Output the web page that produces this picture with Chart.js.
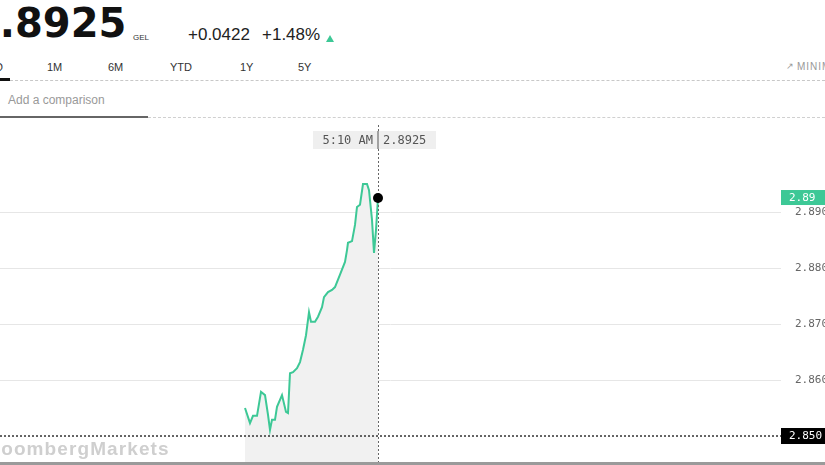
<!DOCTYPE html>
<html>
<head>
<meta charset="utf-8">
<script src="https://cdn.jsdelivr.net/npm/chart.js@4"></script>
<style>
  html, body { margin:0; padding:0; background:#fff; }
  body { width:825px; height:465px; overflow:hidden; position:relative; font-family:"Liberation Sans", Arial, sans-serif; }
  .abs { position:absolute; white-space:nowrap; }
  #price { left:-28px; top:2px; font-family:"DejaVu Sans", sans-serif; font-size:40px; line-height:42px; font-weight:bold; color:#111; }
  #cur { left:133px; top:33px; font-size:8px; color:#333; }
  #chg { left:188px; top:25px; font-size:17px; color:#222; }
  #pct { left:262px; top:25px; font-size:17px; color:#222; }
  #tri { left:326px; top:35px; width:0; height:0; border-left:4px solid transparent; border-right:4px solid transparent; border-bottom:7px solid #3dc896; }
  .tab { top:61px; font-size:11px; color:#333; }
  #tabline { left:0; top:80px; width:825px; height:0; border-top:1px dashed #c8c8c8; }
  #tabsel { left:0; top:78px; width:10px; height:3px; background:#111; }
  #mini { left:797px; top:61px; font-size:10px; color:#999; letter-spacing:1px; }
  #miniicon { left:786px; top:61px; font-size:9px; color:#999; }
  #cmp { left:8px; top:93px; font-size:12px; color:#999; }
  #cmpline1 { left:0; top:116px; width:148px; height:2px; background:#666; }
  #cmpline2 { left:148px; top:117px; width:677px; height:0; border-top:1px dashed #d0d0d0; }
  #wrap { left:0; top:125px; width:860px; height:340px; }
  #wm { left:-20px; top:438px; font-size:19px; font-weight:bold; color:#cfcfcf; letter-spacing:1.1px; }
  #bottom { left:0; top:462px; width:825px; height:3px; background:#9a9a9a; }
</style>
</head>
<body>
<div class="abs" id="price">2.8925</div>
<div class="abs" id="cur">GEL</div>
<div class="abs" id="chg">+0.0422</div>
<div class="abs" id="pct">+1.48%</div>
<div class="abs" id="tri"></div>
<div class="abs tab" style="left:-11px">1D</div>
<div class="abs tab" style="left:47px">1M</div>
<div class="abs tab" style="left:108px">6M</div>
<div class="abs tab" style="left:170px">YTD</div>
<div class="abs tab" style="left:240px">1Y</div>
<div class="abs tab" style="left:298px">5Y</div>
<div class="abs" id="tabline"></div>
<div class="abs" id="tabsel"></div>
<div class="abs" id="miniicon">&#8599;</div>
<div class="abs" id="mini">MINIMIZE</div>
<div class="abs" id="cmp">Add a comparison</div>
<div class="abs" id="cmpline1"></div>
<div class="abs" id="cmpline2"></div>
<div class="abs" id="wrap"><canvas id="c" width="860" height="340"></canvas></div>
<div class="abs" id="wm">BloombergMarkets</div>
<div class="abs" id="bottom"></div>
<script>
// time of quote, minutes after midnight
const times = [243.5,246,247.5,249.5,251.5,253.5,255,256,257,258.5,259.5,262,264,265,266,267.5,269.5,271,272.5,274,275.5,276.5,278.5,280,282,283,285,287,288.5,291,293.5,294.5,295,297,298.5,299.5,301,302.5,304.5,305.5,307,308,309,310];
// GEL price
const prices = [2.8550,2.8523,2.8536,2.8536,2.8579,2.8573,2.8538,2.8511,2.8529,2.8529,2.8552,2.8573,2.8543,2.8541,2.8612,2.8614,2.8621,2.8632,2.8654,2.8680,2.8721,2.8704,2.8704,2.8713,2.8730,2.8748,2.8757,2.8761,2.8766,2.8788,2.8811,2.8832,2.8845,2.8848,2.8877,2.8909,2.8913,2.8950,2.8950,2.8939,2.8886,2.8827,2.8868,2.8925];
const yTicks = [2.850, 2.860, 2.870, 2.880, 2.890];
const baseLevel = 2.850;
const xRange = [121, 511.5];
const yRange = [2.84518, 2.90554];

const lastT = times[times.length-1];
const lastV = prices[prices.length-1];
function fmtTime(m){
  let h = Math.floor(m/60), mm = Math.round(m%60);
  const ap = h >= 12 ? 'PM' : 'AM';
  h = h % 12; if (h === 0) h = 12;
  return h + ':' + String(mm).padStart(2,'0') + ' ' + ap;
}
const MONO = '"DejaVu Sans Mono", "Liberation Mono", monospace';

const overlay = {
  id:'overlay',
  afterDatasetsDraw(chart){
    const {ctx, chartArea:a, scales:{x, y}} = chart;
    const W = chart.width;
    ctx.save();
    // base dotted line
    const yb = y.getPixelForValue(baseLevel);
    ctx.strokeStyle = '#333'; ctx.lineWidth = 1.5; ctx.setLineDash([2,2]);
    ctx.beginPath(); ctx.moveTo(a.left, yb); ctx.lineTo(a.right, yb); ctx.stroke();
    // crosshair
    const xp = x.getPixelForValue(lastT), yp = y.getPixelForValue(lastV);
    ctx.strokeStyle = '#666'; ctx.lineWidth = 1; ctx.setLineDash([2,2]);
    ctx.beginPath(); ctx.moveTo(Math.round(xp)+0.5, 0); ctx.lineTo(Math.round(xp)+0.5, a.bottom); ctx.stroke();
    ctx.setLineDash([]);
    // tooltip box
    ctx.fillStyle = '#efefef';
    ctx.fillRect(xp-65, 6, 123, 18);
    ctx.strokeStyle = '#888'; ctx.lineWidth = 1.5;
    ctx.beginPath(); ctx.moveTo(xp, 6); ctx.lineTo(xp, 24); ctx.stroke();
    ctx.font = '12px ' + MONO; ctx.fillStyle = '#555'; ctx.textBaseline = 'middle';
    ctx.textAlign = 'right'; ctx.fillText(fmtTime(lastT), xp-5, 15.5);
    ctx.textAlign = 'left'; ctx.fillText(lastV.toFixed(4), xp+5, 15.5);
    // black dot
    ctx.fillStyle = '#000';
    ctx.beginPath(); ctx.arc(xp, yp, 5, 0, Math.PI*2); ctx.fill();
    // right green label
    ctx.fillStyle = '#3dc896';
    ctx.fillRect(a.right, yp-8, W-a.right, 15);
    ctx.fillStyle = '#fff'; ctx.font = '11px ' + MONO; ctx.textAlign = 'left';
    ctx.fillText(lastV.toFixed(2), a.right+8, yp);
    // right black label
    ctx.fillStyle = '#000';
    ctx.fillRect(a.right, yb-8, W-a.right, 16);
    ctx.fillStyle = '#fff';
    ctx.fillText(baseLevel.toFixed(3), a.right+8, yb+0.5);
    ctx.restore();
  }
};

new Chart(document.getElementById('c'), {
  type:'line',
  data:{
    datasets:[{
      data: times.map((t,i)=>({x:t, y:prices[i]})),
      borderColor:'#3dc896',
      borderWidth:2,
      pointRadius:0,
      tension:0,
      fill:'start',
      backgroundColor:'#f1f1f1'
    }]
  },
  options:{
    responsive:false,
    animation:false,
    events:[],
    layout:{padding:{left:0, right:0, top:0, bottom:2}},
    plugins:{legend:{display:false}, tooltip:{enabled:false}},
    scales:{
      x:{type:'linear', display:false, min:xRange[0], max:xRange[1]},
      y:{
        position:'right',
        min:yRange[0], max:yRange[1],
        afterBuildTicks(s){ s.ticks = yTicks.map(v=>({value:v})); },
        afterFit(s){ s.width = 79; s.paddingTop = 0; s.paddingBottom = 0; },
        border:{display:false},
        grid:{
          drawTicks:false,
          color:(c)=> (c.tick && Math.abs(c.tick.value-baseLevel)<1e-9) ? 'rgba(0,0,0,0)' : '#e6e6e6',
          lineWidth:1
        },
        ticks:{
          padding:14,
          color:'#666',
          font:{family:MONO, size:11},
          callback:(v)=>Number(v).toFixed(3)
        }
      }
    }
  },
  plugins:[overlay]
});
</script>
</body>
</html>
